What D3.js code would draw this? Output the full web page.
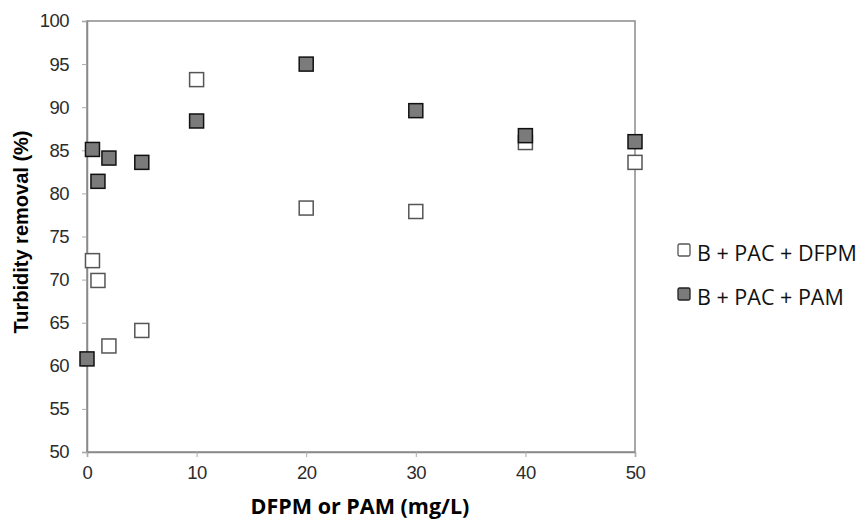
<!DOCTYPE html>
<html lang="en">
<head>
    <meta charset="UTF-8">
    <title>Turbidity removal</title>
    <script src="https://d3js.org/d3.v7.min.js"></script>
    <style>
        body { margin: 0; background: #fff; }
        .tick text { font-family: "Liberation Sans", Arial, sans-serif; font-size: 18.5px; fill: #2b2b2b; letter-spacing: -0.5px; }
        .legend text { font-family: "Open Sans", sans-serif; font-size: 21.5px; fill: #111; }
    </style>
</head>
<body>
    <svg width="861" height="519" id="chart"></svg>
    <script>
        // data
        const dfpmX = [0.5, 1, 2, 5, 10, 20, 30, 40, 50];
        const dfpmY = [72.2, 69.9, 62.3, 64.1, 93.2, 78.3, 77.9, 85.9, 83.6];
        const pamX = [0, 0.5, 1, 2, 5, 10, 20, 30, 40, 50];
        const pamY = [60.8, 85.1, 81.4, 84.1, 83.6, 88.4, 95.0, 89.6, 86.7, 86.0];
        const xTicks = [0, 10, 20, 30, 40, 50];
        const yTicks = [50, 55, 60, 65, 70, 75, 80, 85, 90, 95, 100];
        const seriesNames = ["B + PAC + DFPM", "B + PAC + PAM"];

        const margin = { top: 21, left: 87, right: 226, bottom: 67 };
        const width = 861 - margin.left - margin.right;
        const height = 519 - margin.top - margin.bottom;

        const svg = d3.select("#chart");
        const g = svg.append("g")
            .attr("transform", `translate(${margin.left},${margin.top})`);

        const x = d3.scaleLinear().domain([0, 50]).range([0, width]);
        const y = d3.scaleLinear().domain([50, 100]).range([height, 0]);

        // frame
        g.append("rect")
            .attr("width", width).attr("height", height)
            .attr("fill", "none").attr("stroke", "#8a8a8a").attr("stroke-width", 1.5);

        const yAxis = g.append("g")
            .call(d3.axisLeft(y).tickValues(yTicks).tickSize(5).tickPadding(13));
        const xAxis = g.append("g")
            .attr("transform", `translate(0,${height})`)
            .call(d3.axisBottom(x).tickValues(xTicks).tickSize(5).tickPadding(9));
        [xAxis, yAxis].forEach(a => {
            a.select(".domain").attr("stroke", "#8a8a8a").attr("stroke-width", 1.5);
            a.selectAll(".tick line").attr("stroke", "#aaa");
        });

        const size = 14;
        g.selectAll(".dfpm")
            .data(dfpmX.map((d, i) => [d, dfpmY[i]]))
            .enter().append("rect")
            .attr("x", d => x(d[0]) - size / 2)
            .attr("y", d => y(d[1]) - size / 2)
            .attr("width", size).attr("height", size)
            .attr("fill", "#fff").attr("stroke", "#555").attr("stroke-width", 1.5);

        g.selectAll(".pam")
            .data(pamX.map((d, i) => [d, pamY[i]]))
            .enter().append("rect")
            .attr("x", d => x(d[0]) - size / 2)
            .attr("y", d => y(d[1]) - size / 2)
            .attr("width", size).attr("height", size)
            .attr("fill", "#7b7b7b").attr("stroke", "#111").attr("stroke-width", 1.5);

        // legend
        const legend = svg.append("g").attr("class", "legend")
            .attr("transform", "translate(678,250)");
        seriesNames.forEach((name, i) => {
            const row = legend.append("g").attr("transform", `translate(0,${i * 44})`);
            row.append("rect")
                .attr("x", 0).attr("y", -6).attr("width", 12).attr("height", 12).attr("rx", 1.5)
                .attr("fill", i ? "#7b7b7b" : "#fff")
                .attr("stroke", i ? "#222" : "#555").attr("stroke-width", 1.3);
            row.append("text").attr("x", 19).attr("y", 11).text(name);
        });

        // axis titles
        svg.append("text")
            .attr("transform", `translate(28,232) rotate(-90)`)
            .attr("text-anchor", "middle")
            .style("font-family", "'Liberation Sans', Arial, sans-serif")
            .style("font-size", "20px").style("font-weight", "bold")
            .text("Turbidity removal (%)");
        svg.append("text")
            .attr("x", 360).attr("y", 514)
            .attr("text-anchor", "middle")
            .style("font-family", "Open Sans, sans-serif")
            .style("font-size", "21.5px").style("font-weight", "bold")
            .text("DFPM or PAM (mg/L)");
    </script>
</body>
</html>
